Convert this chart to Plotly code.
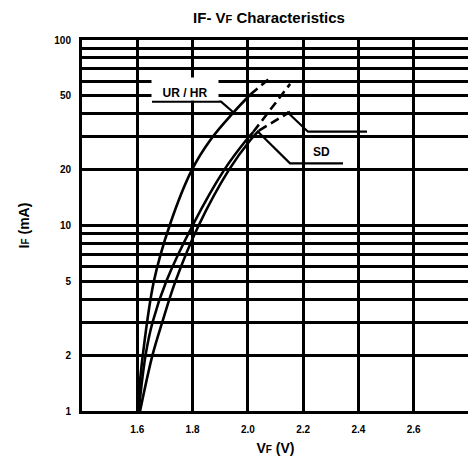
import plotly.graph_objects as go

# ---- data ----
urhr_v = [1.600, 1.620, 1.660, 1.717, 1.798, 1.865, 1.950, 2.010]
urhr_i = [1.0, 2.0, 5.0, 10.0, 20.0, 29.0, 41.0, 51.0]
urhr_dash_v = [2.010, 2.078]
urhr_dash_i = [51.0, 62.0]

mid_v = [1.605, 1.630, 1.655, 1.705, 1.800, 1.915, 1.995, 2.020]
mid_i = [1.0, 2.0, 3.0, 5.0, 10.0, 20.0, 29.0, 32.0]
mid_dash_v = [2.020, 2.153]
mid_dash_i = [32.0, 58.0]

sd_v = [1.610, 1.655, 1.690, 1.738, 1.822, 1.932, 2.010, 2.040]
sd_i = [1.0, 2.0, 3.0, 5.0, 10.0, 20.0, 29.0, 32.5]
sd_dash_v = [2.040, 2.153]
sd_dash_i = [32.5, 41.0]

x_ticks = [1.6, 1.8, 2.0, 2.2, 2.4, 2.6]
x_ticktext = ["1.6", "1.8", "2.0", "2.2", "2.4", "2.6"]
y_grid = [1, 2, 3, 4, 5, 6, 7, 8, 9, 10, 20, 30, 40, 50, 60, 70, 80, 90, 100]
y_labeled = [1, 2, 5, 10, 20, 50, 100]

# ---- layout geometry (page pixels; the page body adds an 8px margin) ----
OFF = 8
W, H = 476 - OFF, 469 - OFF
L, R, T, B = 82 - OFF, 469 - OFF, 40 - OFF, 411 - OFF


def P(px, py):
    """page pixel -> paper fraction"""
    px -= OFF
    py -= OFF
    return (px - L) / (R - L), (B - py) / (B - T)


fig = go.Figure()

line_style = dict(color="black", width=2.6)
dash_style = dict(color="black", width=2.6, dash="9px,5px")

for v, i in [(urhr_v, urhr_i), (mid_v, mid_i), (sd_v, sd_i)]:
    fig.add_trace(go.Scatter(x=v, y=i, mode="lines",
                             line=dict(**line_style, shape="spline", smoothing=1.0),
                             hoverinfo="skip", showlegend=False))
for v, i in [(urhr_dash_v, urhr_dash_i), (mid_dash_v, mid_dash_i), (sd_dash_v, sd_dash_i)]:
    fig.add_trace(go.Scatter(x=v, y=i, mode="lines", line=dash_style,
                             hoverinfo="skip", showlegend=False))

FONT = "Liberation Sans, Arial"
tickfont = dict(family=FONT, size=10, color="black", weight="bold")
titlefont = dict(family=FONT, size=14, color="black", weight="bold")

fig.update_xaxes(range=[1.4, 2.8], tickvals=x_ticks, ticktext=x_ticktext,
                 showgrid=True, gridcolor="black", gridwidth=2.5,
                 showline=True, linecolor="black", linewidth=3, mirror=True,
                 zeroline=False, ticks="", ticklabelstandoff=7, tickfont=tickfont,
                 automargin=False,
                 title=dict(text="V<span style='font-size:10px'>F</span> (V)", font=titlefont, standoff=10))
fig.update_yaxes(type="log", range=[0, 2], tickvals=y_grid,
                 ticktext=[str(v) if v in y_labeled else "" for v in y_grid],
                 showgrid=True, gridcolor="black", gridwidth=2.5,
                 showline=True, linecolor="black", linewidth=3, mirror=True,
                 zeroline=False, ticks="", ticklabelstandoff=6, tickfont=tickfont,
                 automargin=False,
                 title=dict(text="I<span style='font-size:10px'>F</span> (mA)", font=titlefont, standoff=22))

# leader lines (paper coordinates)
def path(points):
    s = ""
    for k, (px, py) in enumerate(points):
        x, y = P(px, py)
        s += ("M" if k == 0 else "L") + f"{x:.4f},{y:.4f} "
    return s.strip()

for pts in [
    [(152, 101.7), (221, 101.7), (233, 112)],
    [(287, 111.7), (308, 131.7), (367, 131.7)],
    [(258, 131.7), (290, 163.3), (343, 163.3)],
]:
    fig.add_shape(type="path", path=path(pts), xref="paper", yref="paper",
                  line=dict(color="black", width=2.2), layer="above")

ax, ay = P(185, 88.5)
fig.add_annotation(x=ax, y=ay, xref="paper", yref="paper", text="UR / HR",
                   xanchor="center", yanchor="middle",
                   showarrow=False, bgcolor="white", width=66, height=22,
                   valign="bottom", borderpad=0,
                   font=dict(family=FONT, size=12, color="black", weight="bold"))
sx, sy = P(321.7, 151.7)
fig.add_annotation(x=sx, y=sy, xref="paper", yref="paper", text="SD",
                   xanchor="center", yanchor="middle", showarrow=False,
                   font=dict(family=FONT, size=12, color="black", weight="bold"))

fig.update_layout(
    width=W, height=H, autosize=False,
    margin=dict(l=L, r=W - R, t=T, b=H - B, pad=0, autoexpand=False),
    paper_bgcolor="white", plot_bgcolor="white",
    title=dict(text="IF- V<span style='font-size:11px'>F</span> Characteristics",
               x=(269 - OFF) / W, xanchor="center", y=1 - 10 / H, yanchor="middle",
               font=dict(family=FONT, size=15, color="black", weight="bold")),
)

fig.write_html("out.html")
